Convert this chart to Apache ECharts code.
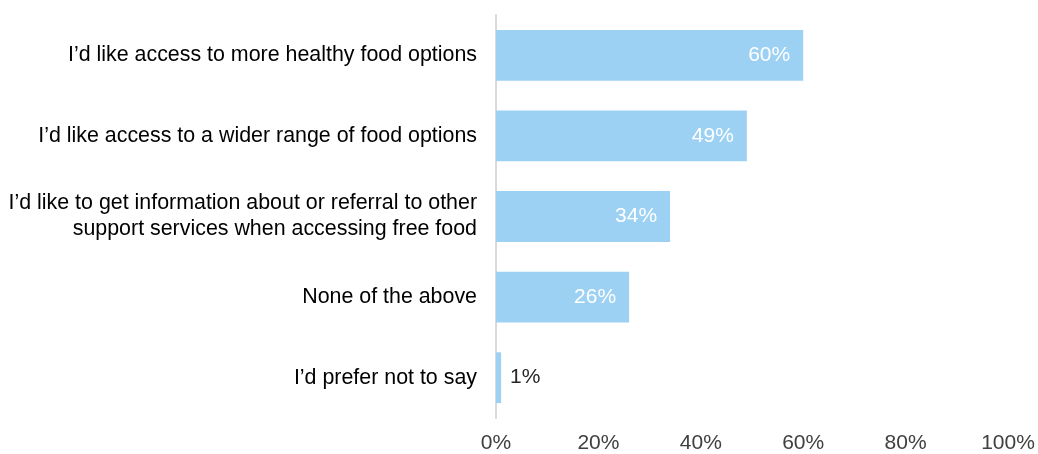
<html style="height: 100%">
<head>
	<meta charset="utf-8">
	<script type="text/javascript" src="https://cdn.jsdelivr.net/npm/echarts@6/dist/echarts.min.js"></script>
</head>

<body style="height: 100%; margin: 0; background: #fff">
	<div id="container" style="height:454px;width:1038px"></div>
</body>

<script type="text/javascript">
	var dom = document.getElementById("container");
	var myChart = echarts.init(dom);

	// categories, top to bottom
	let categories = [
		"I\u2019d like access to more healthy food options",
		"I\u2019d like access to a wider range of food options",
		"I\u2019d like to get information about or referral to other\nsupport services when accessing free food",
		"None of the above",
		"I\u2019d prefer not to say"
	]
	let values = [60, 49, 34, 26, 1]
	let tickLabels = ["0%", "20%", "40%", "60%", "80%", "100%"]

	// small bars get their label outside
	let barData = values.map(v => {
		if (v < 5) {
			return { value: v, label: { position: 'right', color: '#262626', distance: 9 } }
		}
		return { value: v }
	})

	var option = {
		animation: false,
		grid: { left: 496, right: 30, top: 15, bottom: 33, containLabel: false },
		xAxis: {
			type: 'value',
			min: 0,
			max: 100,
			interval: 20,
			axisLine: { show: false },
			axisTick: { show: false },
			splitLine: { show: false },
			axisLabel: {
				margin: 15,
				fontFamily: 'Liberation Sans, Arial',
				fontSize: 21,
				color: '#404040',
				formatter: function (v) { return tickLabels[v / 20] }
			}
		},
		yAxis: {
			type: 'category',
			inverse: true,
			data: categories,
			axisLine: { show: true, lineStyle: { color: '#d9d9d9', width: 2 } },
			axisTick: { show: false },
			axisLabel: {
				margin: 19,
				fontFamily: 'Liberation Sans, Arial',
				fontSize: 21.4,
				color: '#000',
				lineHeight: 26,
				align: 'right'
			}
		},
		series: [
			{
				type: 'bar',
				data: barData,
				barCategoryGap: '37%',
				itemStyle: { color: '#9dd1f3' },
				label: {
					show: true,
					position: 'insideRight',
					distance: 13,
					color: '#fff',
					fontFamily: 'Liberation Sans, Arial',
					fontSize: 21,
					formatter: '{c}%'
				}
			}
		]
	};

	myChart.setOption(option);
</script>

</html>
